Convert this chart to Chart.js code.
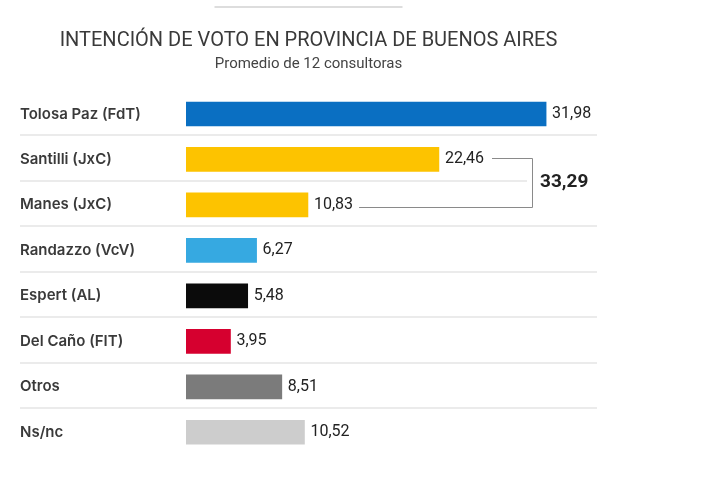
<!DOCTYPE html>
<html>
<head>
<meta charset="utf-8">
<script src="https://cdn.jsdelivr.net/npm/chart.js@4.4.1/dist/chart.umd.min.js"></script>
<style>
  html, body { margin: 0; padding: 0; background: #fff; }
  #wrap { width: 720px; height: 493px; position: relative; }
</style>
</head>
<body>
<div id="wrap"><canvas id="votoChart"></canvas></div>
<script>
// datos del gráfico
const candidatos = ['Tolosa Paz (FdT)', 'Santilli (JxC)', 'Manes (JxC)', 'Randazzo (VcV)',
  'Espert (AL)', 'Del Caño (FIT)', 'Otros', 'Ns/nc'];
const promedios = [31.98, 22.46, 10.83, 6.27, 5.48, 3.95, 8.51, 10.52];
const colores = ['#0a6fc2', '#fdc300', '#fdc300', '#36a9e1', '#0b0b0b', '#d6002f', '#7b7b7b', '#cdcdcd'];
const grupoJxC = [1, 2]; // filas sumadas con la llave
const titulo = 'INTENCIÓN DE VOTO EN PROVINCIA DE BUENOS AIRES';
const subtitulo = 'Promedio de 12 consultoras';

const fmt = v => v.toFixed(2).replace('.', ',');

const extrasPlugin = {
  id: 'extras',
  beforeDatasetsDraw(chart) {
    const ctx = chart.ctx;
    const y = chart.scales.y;
    const area = chart.chartArea;
    const paso = y.getPixelForValue(1) - y.getPixelForValue(0);
    ctx.save();
    ctx.strokeStyle = '#e4e4e4';
    ctx.lineWidth = 1.5;
    for (let i = 0; i < candidatos.length - 1; i++) {
      const py = Math.round(y.getPixelForValue(i) + paso * 0.47);
      const endX = (i === grupoJxC[0]) ? area.right - 70 : area.right;
      ctx.beginPath();
      ctx.moveTo(20, py);
      ctx.lineTo(endX, py);
      ctx.stroke();
    }
    // línea decorativa arriba
    const cx = (20 + area.right) / 2;
    ctx.strokeStyle = '#dddddd';
    ctx.lineWidth = 2;
    ctx.beginPath();
    ctx.moveTo(cx - 94, 7);
    ctx.lineTo(cx + 94, 7);
    ctx.stroke();
    ctx.restore();
  },
  afterDatasetsDraw(chart) {
    const ctx = chart.ctx;
    const meta = chart.getDatasetMeta(0);
    const area = chart.chartArea;
    ctx.save();
    ctx.font = '16px Roboto';
    ctx.fillStyle = '#222';
    ctx.textBaseline = 'middle';
    ctx.textAlign = 'left';
    const ends = [];
    meta.data.forEach((bar, i) => {
      const txt = fmt(promedios[i]);
      ctx.fillText(txt, bar.x + 6, bar.y);
      ends.push(bar.x + 6 + ctx.measureText(txt).width);
    });
    // llave de JxC
    const a = meta.data[grupoJxC[0]], b = meta.data[grupoJxC[1]];
    const bx = area.right - 65;
    ctx.strokeStyle = '#8a8a8a';
    ctx.lineWidth = 1;
    ctx.beginPath();
    ctx.moveTo(ends[grupoJxC[0]] + 8, Math.round(a.y) - 0.5);
    ctx.lineTo(bx + 0.5, Math.round(a.y) - 0.5);
    ctx.lineTo(bx + 0.5, Math.round(b.y) + 2.5);
    ctx.lineTo(ends[grupoJxC[1]] + 6, Math.round(b.y) + 2.5);
    ctx.stroke();
    const total = grupoJxC.reduce((s, i) => s + promedios[i], 0);
    ctx.font = 'bold 19px Roboto';
    ctx.fillStyle = '#222';
    ctx.fillText(fmt(total), bx + 8, (a.y + b.y) / 2);
    ctx.restore();
  }
};

const chart = new Chart(document.getElementById('votoChart'), {
  type: 'bar',
  data: {
    labels: candidatos,
    datasets: [{
      data: promedios,
      backgroundColor: colores,
      barThickness: 24
    }]
  },
  options: {
    indexAxis: 'y',
    responsive: true,
    maintainAspectRatio: false,
    animation: false,
    layout: { padding: { left: 20, right: 123, top: 0, bottom: 38 } },
    plugins: {
      legend: { display: false },
      tooltip: { enabled: false },
      title: {
        display: true,
        text: titulo,
        color: '#3a3a3a',
        font: { family: 'Roboto', size: 20, weight: 'normal' },
        padding: { top: 29, bottom: 0 }
      },
      subtitle: {
        display: true,
        text: subtitulo,
        color: '#444',
        font: { family: 'Roboto', size: 15 },
        padding: { top: 2, bottom: 18.25 }
      }
    },
    scales: {
      x: { display: false, min: 0, max: 36.5 },
      y: {
        grid: { display: false },
        border: { display: false },
        ticks: {
          crossAlign: 'far',
          color: '#3a3a3a',
          font: { family: 'Inter', size: 15, weight: '600' }
        },
        afterFit(scale) { scale.width = 166; }
      }
    }
  },
  plugins: [extrasPlugin]
});
</script>
</body>
</html>
